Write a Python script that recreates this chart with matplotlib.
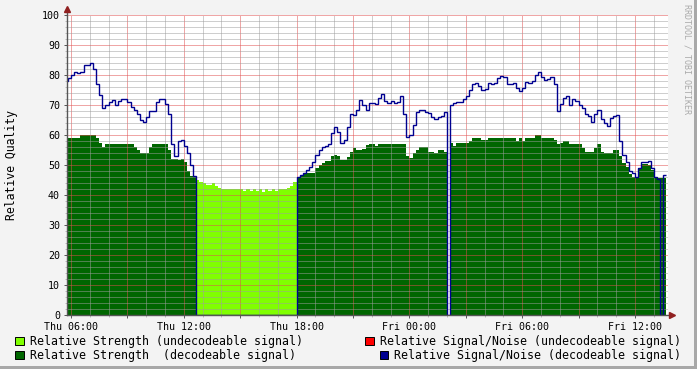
import numpy as np
import matplotlib
matplotlib.use('Agg')
import matplotlib.pyplot as plt
from matplotlib.patches import Rectangle

plt.rcParams['font.family'] = 'DejaVu Sans Mono'

# 10-minute samples, hours relative to Thu 06:00; first bin starts Thu 05:40
step_h = 1 / 6
start_h = -1 / 3

# relative strength per bin (nan = missing sample)
strength = [
    59, 59, 59, 59, 59, 60, 60, 60, 60, 60, 59, 57.5, 56, 57, 57, 57, 57, 57, 57, 57,
    57, 57, 56, 55, 54, 54, 54, 56, 57, 57, 57, 57, 57, 55, 52, 52, 51.7, 52, 51, 48,
    46.5, 46,
    45, 44.5, 44, 43.3, 43.3, 44, 43, 42.5, 42, 42, 42, 42, 42, 42, 42, 41.5, 42, 41.5,
    42, 41.5, 42, 41, 42, 41.5, 42, 41.5, 42, 42, 42, 42.5, 43, 44.5,
    46, 46.3, 47, 47.4, 47.5, 47.5, 49, 50, 50.8, 51.4, 51.4, 53, 53.5, 53, 51.7, 51.7,
    52.6, 54.4, 55.6, 55, 55, 55.5, 56.7, 57, 57, 56.5, 57, 57, 57, 57, 57, 57, 57, 57,
    57, 53, 52.2, 54, 55, 56.1, 56.1, 56, 54.4, 54.4, 53.9, 55, 55, 54.5,
    np.nan,
    57.2, 56.4, 57.2, 57.2, 57.2, 57.5, 58, 58.9, 58.9, 58.9, 58.5, 58.5, 58.9, 58.9,
    58.9, 58.9, 58.9, 58.9, 58.9, 58.9, 58.9, 58, 58.9, 58, 58.9, 58.9, 58.9, 60, 60,
    59.1, 59.1, 59.1, 59.1, 58.5, 57, 57.2, 58, 58, 56.9, 56.9, 56.9, 56.9, 55.6, 54.4,
    54.4, 54.4, 55.6, 56.9, 54.4, 54.1, 54.1, 54.1, 55, 55, 53, 50.6, 49.4, 47, 46.1,
    46.1, 48.9, 50.2, 50.2, 50, 48.3, 46.1, 45.6, 45.6, 45.6,
]

# relative signal/noise per bin (0 while the signal is not decodeable)
snr = [
    78, 79, 80, 81, 80.6, 81, 83.5, 83.3, 84, 82, 77, 73.5, 69, 70, 71, 71.7, 70, 71.5,
    72, 72, 71, 69.5, 68.5, 67, 65, 64.5, 66, 68, 68, 71, 72, 72, 70.5, 67, 57, 53, 58,
    58.5, 56.5, 54, 50, 46.5,
    0, 0, 0, 0, 0, 0, 0, 0, 0, 0, 0, 0, 0, 0, 0, 0, 0, 0, 0, 0, 0, 0, 0, 0, 0, 0, 0, 0,
    0, 0, 0, 0,
    45.9, 46.7, 47.4, 48.3, 49.2, 51.1, 53.3, 55, 56.1, 56.5, 57, 60.6, 62.8, 61.1, 57.5,
    58.3, 62.8, 67, 66.7, 68.3, 71.7, 70, 68.3, 70.8, 70.8, 70.5, 72.2, 73.6, 71.4, 70.6,
    71.4, 70.6, 71, 73, 67, 59.2, 60, 63.3, 67.8, 68.3, 68.3, 67.8, 67.2, 66.1, 65.5,
    66.1, 66.5, 67.8,
    0,
    70, 70.8, 70.9, 70.9, 71.9, 73, 75, 77, 77.5, 76.5, 75, 75.5, 77.5, 77, 77.5, 79,
    79.8, 79.5, 77, 77, 77.5, 75.6, 74.8, 75.6, 77.8, 77.5, 78, 80, 80.9, 79.5, 78.3,
    78.7, 79.4, 77, 68, 70.5, 72.2, 73, 70, 72, 71.5, 70, 68.9, 67, 66.3, 64.4, 67, 68.5,
    65.5, 63.9, 63, 65.8, 66.4, 66.7, 58, 53.3, 51, 48, 47.2, 46.1, 49, 50.9, 50.9, 51.5,
    49, 46.1, 45.3, 0, 46.7,
]

undecodeable = (42, 74)  # bin range where the signal could not be decoded

tick_hours = [0, 6, 12, 18, 24, 30]
tick_labels = ['Thu 06:00', 'Thu 12:00', 'Thu 18:00', 'Fri 00:00', 'Fri 06:00', 'Fri 12:00']

legend_items = [
    ('Relative Strength (undecodeable signal)', '#80FF00'),
    ('Relative Strength  (decodeable signal)', '#006600'),
    ('Relative Signal/Noise (undecodeable signal)', '#FF0000'),
    ('Relative Signal/Noise (decodeable signal)', '#000090'),
]

W, H = 697, 369
fig = plt.figure(figsize=(W / 100, H / 100), dpi=100, facecolor='#F3F3F3')
ax = fig.add_axes([67 / W, 54 / H, 601 / W, 300 / H])
ax.set_facecolor('white')

s = np.array(strength, dtype=float)
idx = np.arange(len(s))
edges = start_h + step_h * np.arange(len(s) + 1)
bad = (idx >= undecodeable[0]) & (idx < undecodeable[1])
dec = np.where(bad, np.nan, s)
undec = np.where(bad, s, np.nan)

ax.stairs(undec, edges, fill=True, baseline=0, color='#80FF00', lw=0, zorder=1)
ax.stairs(dec, edges, fill=True, baseline=0, color='#006600', lw=0, zorder=1)
ax.stairs(np.array(snr, dtype=float), edges, baseline=None, color='#000090', lw=1.0, zorder=3)

ax.set_xlim(-4 / 18.8, 597 / 18.8)
ax.set_ylim(0, 100)

# grid: minor every hour / 2 units, major every 3 hours / 10 units
ax.set_xticks(range(0, 31, 3))
ax.set_xticklabels([tick_labels[tick_hours.index(h)] if h in tick_hours else '' for h in range(0, 31, 3)])
ax.set_xticks(range(0, 32), minor=True)
ax.set_yticks(range(0, 101, 10))
ax.set_yticks(range(0, 101, 2), minor=True)
ax.set_axisbelow(False)
ax.grid(which='major', color=(0.88, 0.31, 0.31, 0.42), linestyle=(0, (1, 1)), linewidth=0.72)
ax.grid(which='minor', color=(0.62, 0.62, 0.62, 0.42), linestyle=(0, (1, 1)), linewidth=0.72)
ax.tick_params(which='major', length=2.5, width=0.7, color='#555555', labelsize=7.2, pad=2.5)
ax.tick_params(which='minor', length=1.5, width=0.7, color='#BBBBBB')
for sp in ax.spines.values():
    sp.set_visible(False)

# axis lines with arrow heads
ax.plot([0, 0], [0, 1 + 4 / 300], transform=ax.transAxes, color='#555555', lw=1, clip_on=False, zorder=4)
ax.plot([0, 1 + 3 / 601], [0, 0], transform=ax.transAxes, color='#555555', lw=1, clip_on=False, zorder=4)
ax.plot([0], [1 + 6 / 300], marker='^', ms=4, color='#902020', transform=ax.transAxes, clip_on=False, zorder=5)
ax.plot([1 + 4 / 601], [0], marker='>', ms=4, color='#902020', transform=ax.transAxes, clip_on=False, zorder=5)

fig.text(12 / W, 1 - 165 / H, 'Relative Quality', rotation=90, ha='center', va='center', fontsize=8.3)
fig.text(687 / W, 1 - 4 / H, 'RRDTOOL / TOBI OETIKER', rotation=270, ha='center', va='top',
         fontsize=6, color='#AAAAAA')

# legend (rrdtool style)
spots = [(15, 345), (15, 359), (365, 345), (379.5, 359)]
for (label, color), (x, yb) in zip(legend_items, spots):
    fig.patches.append(Rectangle((x / W, 1 - yb / H), 8.5 / W, 8.5 / H, transform=fig.transFigure,
                                 facecolor=color, edgecolor='black', lw=0.7))
    fig.text((x + 15) / W, 1 - yb / H, label, ha='left', va='baseline', fontsize=8.35)

# frame shading on the right and bottom
fig.patches.append(Rectangle((694 / W, 0), 3 / W, 1, transform=fig.transFigure, color='#A8A8A8', lw=0))
fig.patches.append(Rectangle((0, 0), 1, 3 / H, transform=fig.transFigure, color='#A8A8A8', lw=0))

fig.savefig('out.png', dpi=100, facecolor=fig.get_facecolor())
